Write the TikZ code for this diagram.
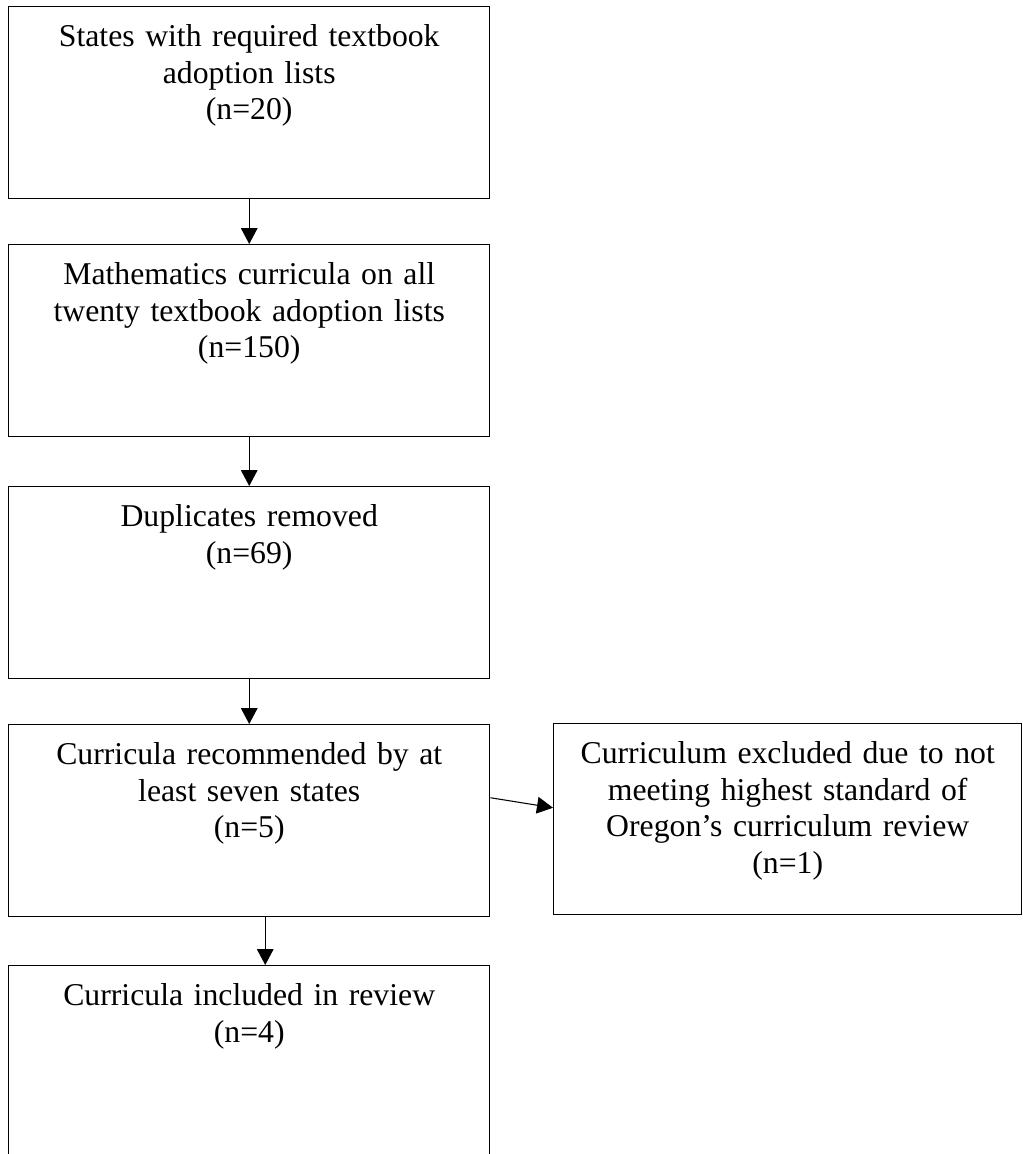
\documentclass[tikz,border=0pt]{standalone}
\usepackage{fontspec}
\setmainfont{Liberation Serif}
\usetikzlibrary{arrows.meta}

\tikzset{
    stage/.style={draw, line width=1.1pt, rectangle, anchor=north west, inner sep=0pt,
        align=center, text width=360.75pt, text height=30pt, text depth=114pt,
        font=\fontsize{23.8}{27.4}\selectfont},
    side/.style={stage, text width=351pt, text depth=113.25pt},
    flow/.style={line width=0.8pt, -{Triangle[length=12pt,width=12.5pt]}}
}

\begin{document}
\begin{tikzpicture}[x=0.75pt, y=-0.75pt]
        \useasboundingbox (0, 0) rectangle (1023, 1154);
        \node[stage] (states) at (8, 6) {States with required textbook\\adoption lists\\(n=20)};
        \node[stage] (lists) at (8, 244) {Mathematics curricula on all\\twenty textbook adoption lists\\(n=150)};
        \node[stage] (dupes) at (8, 486) {Duplicates removed\\(n=69)};
        \node[stage] (seven) at (8, 724) {Curricula recommended by at\\least seven states\\(n=5)};
        \node[side] (excl) at (553, 723) {Curriculum excluded due to not\\meeting highest standard of\\Oregon’s curriculum review\\(n=1)};
        \node[stage] (incl) at (8, 965) {Curricula included in review\\(n=4)};
        \draw[flow] (states) -- (lists);
        \draw[flow] (lists) -- (dupes);
        \draw[flow] (dupes) -- (seven);
        \draw[flow] ([xshift=12pt]seven.south) -- ([xshift=12pt]incl.north);
        \draw[flow] ([yshift=17.25pt]seven.east) -- ([yshift=8.6pt]excl.west);
    \end{tikzpicture}
\end{document}
